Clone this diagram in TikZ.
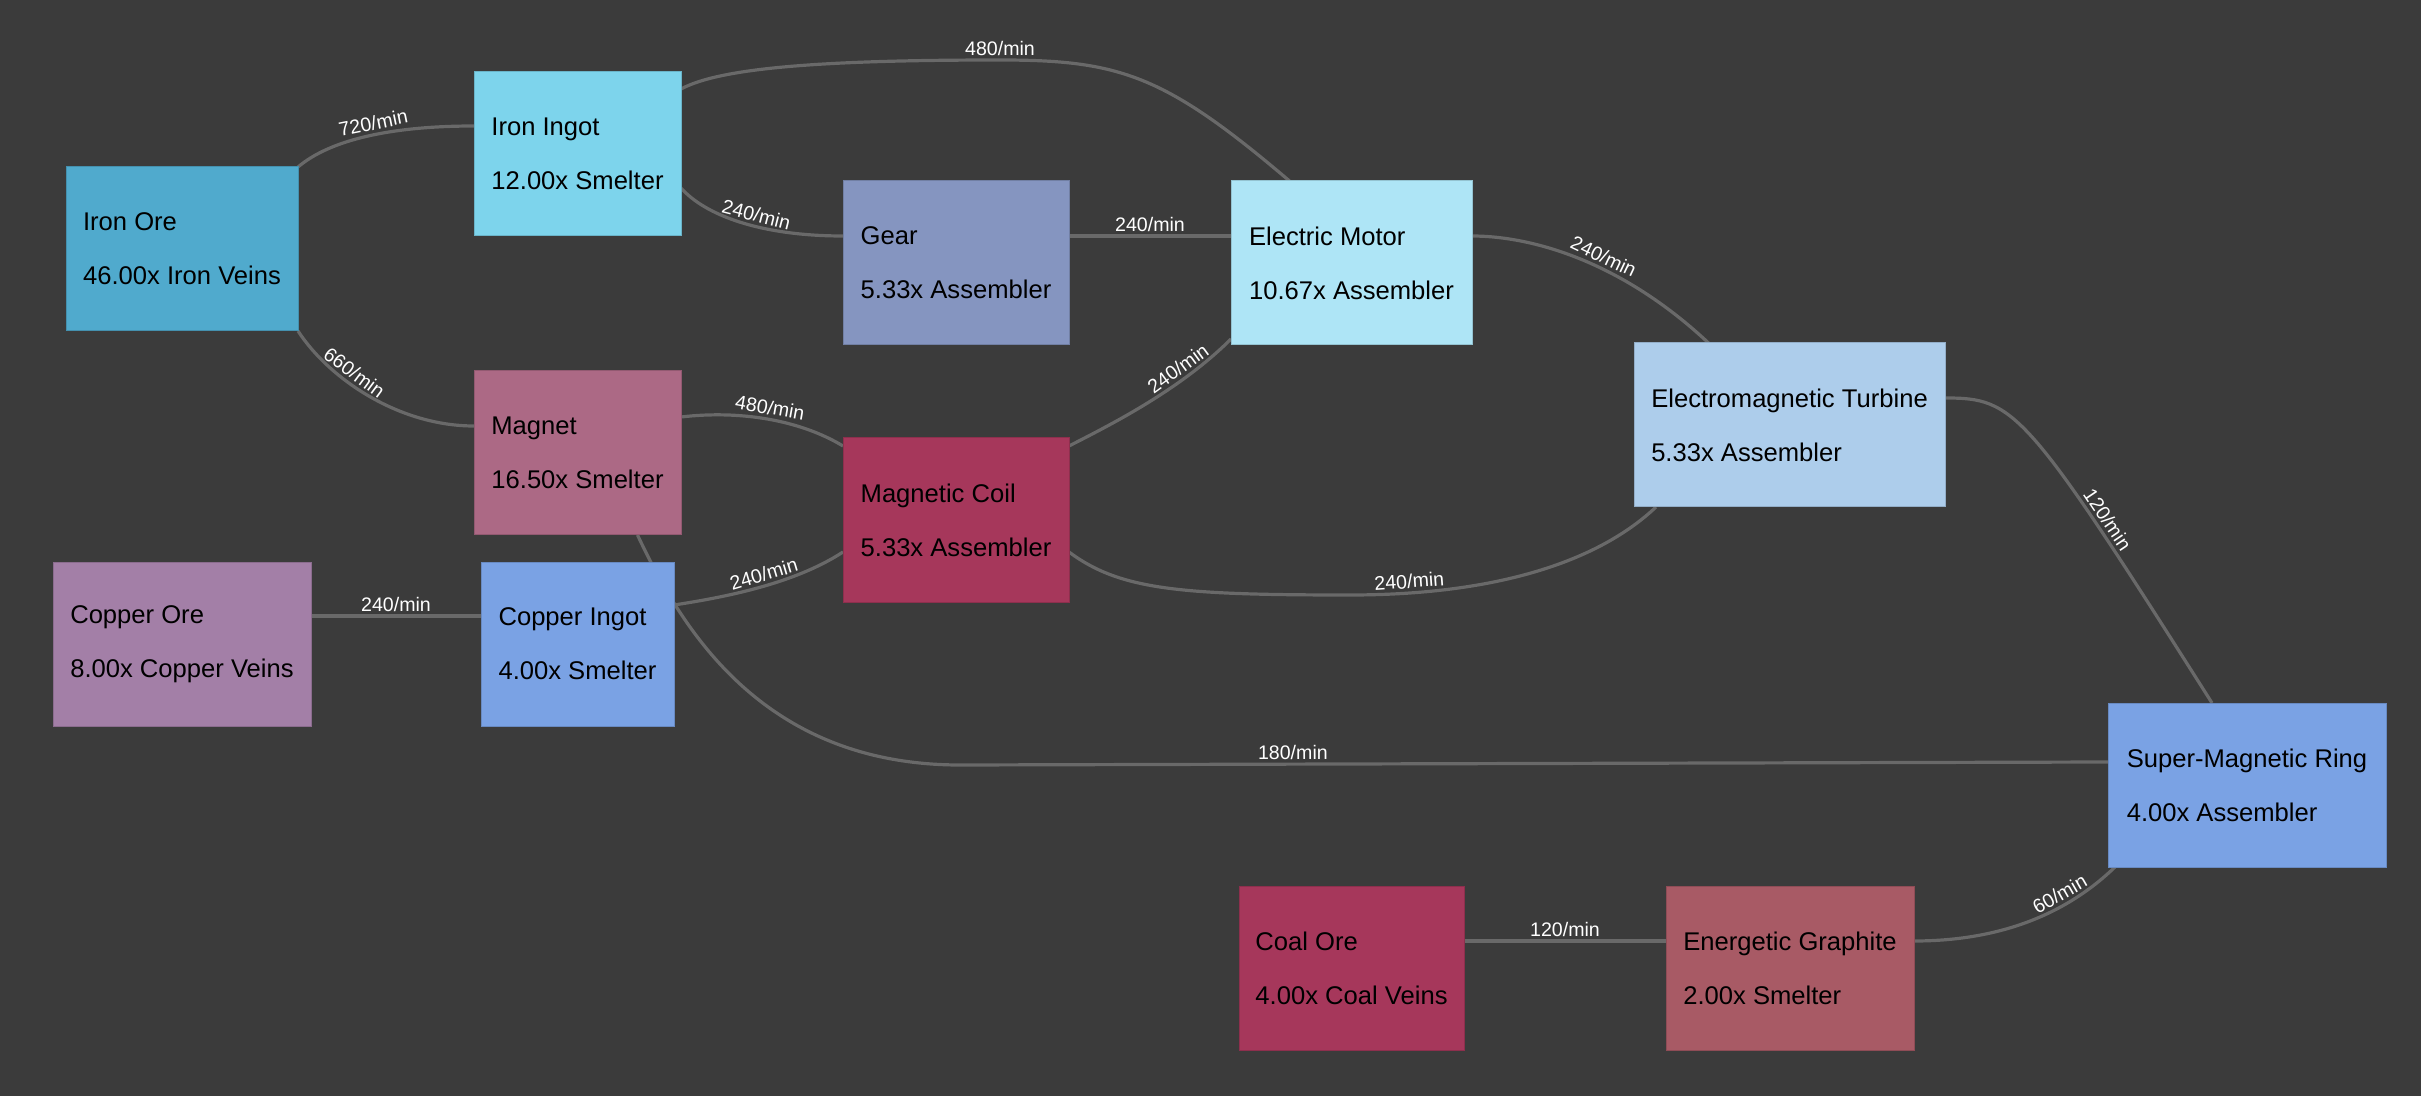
\documentclass[tikz,border=0pt]{standalone}
\usepackage{fontspec}
\setmainfont{Liberation Sans}
\usetikzlibrary{calc,backgrounds}

\definecolor{bgdark}{HTML}{3B3B3B}
\definecolor{beltgray}{HTML}{696969}
\definecolor{ironore}{HTML}{50AACD}
\definecolor{ironingot}{HTML}{7DD4EC}
\definecolor{gearblue}{HTML}{8595C0}
\definecolor{magnetpink}{HTML}{AC6985}
\definecolor{coilred}{HTML}{A6375B}
\definecolor{motorblue}{HTML}{AEE5F6}
\definecolor{turbineblue}{HTML}{ADCDEB}
\definecolor{copperore}{HTML}{A37FA7}
\definecolor{copperingot}{HTML}{7AA2E4}
\definecolor{graphitered}{HTML}{A85A65}

\tikzset{every picture/.style={line width=0.75pt}}
\tikzset{
  machine/.style={draw=#1!85!black, fill=#1, line width=0.5pt, anchor=north west,
    minimum height=82pt, inner xsep=8pt, inner ysep=0pt, outer sep=0pt,
    align=left, text=black, font=\fontsize{12.8}{27}\selectfont},
  belt/.style={draw=beltgray, line width=1.6pt},
  rate/.style={font=\fontsize{9.8}{11}\selectfont, text=white, sloped, above, inner sep=1.5pt},
}

\begin{document}
\begin{tikzpicture}[x=0.5pt,y=-0.5pt]
\useasboundingbox (0,0) rectangle (2421,1096);

% Nodes
\node[machine=ironore, minimum width=116pt] (ore_iron) at (66,167) {Iron Ore\\46.00x Iron Veins};
\node[machine=ironingot, minimum width=103.5pt] (ingot_iron) at (474,72) {Iron Ingot\\12.00x Smelter};
\node[machine=gearblue, minimum width=113pt] (gear) at (843,181) {Gear\\5.33x Assembler};
\node[machine=magnetpink, minimum width=103.5pt] (magnet) at (474,371) {Magnet\\16.50x Smelter};
\node[machine=coilred, minimum width=113pt] (coil) at (843,438) {Magnetic Coil\\5.33x Assembler};
\node[machine=motorblue, minimum width=120.5pt] (motor) at (1231,181) {Electric Motor\\10.67x Assembler};
\node[machine=turbineblue, minimum width=155.5pt] (turbine) at (1634,343) {Electromagnetic Turbine\\5.33x Assembler};
\node[machine=copperore, minimum width=129pt] (ore_copper) at (53,562) {Copper Ore\\8.00x Copper Veins};
\node[machine=copperingot, minimum width=96.5pt] (ingot_copper) at (481,562) {Copper Ingot\\4.00x Smelter};
\node[machine=copperingot, minimum width=139pt] (ring) at (2108,703) {Super-Magnetic Ring\\4.00x Assembler};
\node[machine=coilred, minimum width=112.5pt] (ore_coal) at (1239,886) {Coal Ore\\4.00x Coal Veins};
\node[machine=graphitered, minimum width=124pt] (graphite) at (1666,886) {Energetic Graphite\\2.00x Smelter};

\begin{scope}[on background layer]
\fill[bgdark] (0,0) rectangle (2421,1096);

%Curve Lines
\draw[belt] (ore_iron.north east) .. controls (330,140) and (390,126) .. ($(ingot_iron.west)+(0,-28)$) node[rate,pos=0.55]{720/min};
\draw[belt] (ore_iron.south east) .. controls (330,380) and (400,426) .. ($(magnet.west)+(0,-27)$) node[rate,pos=0.37]{660/min};
\draw[belt] ($(ingot_iron.east)+(0,-65)$) .. controls (720,68) and (820,60) .. (1000,60) node[rate]{480/min} .. controls (1120,60) and (1165,75) .. ($(motor.north)+(-62,0)$);
\draw[belt] ($(ingot_iron.east)+(0,34)$) .. controls (705,215) and (760,236) .. ($(gear.west)+(0,-27)$) node[rate,pos=0.58]{240/min};
\draw[belt] ($(coil.north east)+(0,8)$) .. controls (1110,425) and (1180,390) .. ($(motor.south west)+(0,-6)$) node[rate,pos=0.72]{240/min};
\draw[belt] ($(magnet.east)+(0,-36)$) .. controls (740,410) and (800,420) .. ($(coil.north west)+(0,8)$) node[rate,pos=0.5]{480/min};
\draw[belt] ($(magnet.south)+(60,0)$) .. controls (680,625) and (760,765) .. (960,765) -- ($(ring.west)+(0,-23)$) node[rate,pos=0.29]{180/min};
\draw[belt] ($(ingot_copper.east)+(0,-39)$) .. controls (740,595) and (800,580) .. ($(coil.south west)+(0,-50)$) node[rate,pos=0.5]{240/min};
\draw[belt] ($(coil.east)+(0,32)$) .. controls (1120,590) and (1180,595) .. (1350,595) .. controls (1500,595) and (1600,560) .. ($(turbine.south west)+(22,0)$) node[rate,pos=0.14]{240/min};
\draw[belt] ($(motor.east)+(0,-27)$) .. controls (1530,236) and (1620,260) .. ($(turbine.north)+(-81,0)$) node[rate,pos=0.58]{240/min};
\draw[belt] ($(turbine.east)+(0,-27)$) .. controls (2015,398) and (2025,408) .. ($(ring.north)+(-35,0)$) node[rate,pos=0.74]{120/min};
\draw[belt] ($(graphite.east)+(0,-27)$) .. controls (1990,941) and (2060,920) .. ($(ring.south west)+(7,0)$) node[rate,pos=0.72]{60/min};

%Straight Lines
\draw[belt] ($(gear.east)+(0,-27)$) -- ($(motor.west)+(0,-27)$) node[rate,midway]{240/min};
\draw[belt] ($(ore_copper.east)+(0,-28)$) -- ($(ingot_copper.west)+(0,-28)$) node[rate,midway]{240/min};
\draw[belt] ($(ore_coal.east)+(0,-27)$) -- ($(graphite.west)+(0,-27)$) node[rate,midway]{120/min};
\end{scope}

\end{tikzpicture}
\end{document}
